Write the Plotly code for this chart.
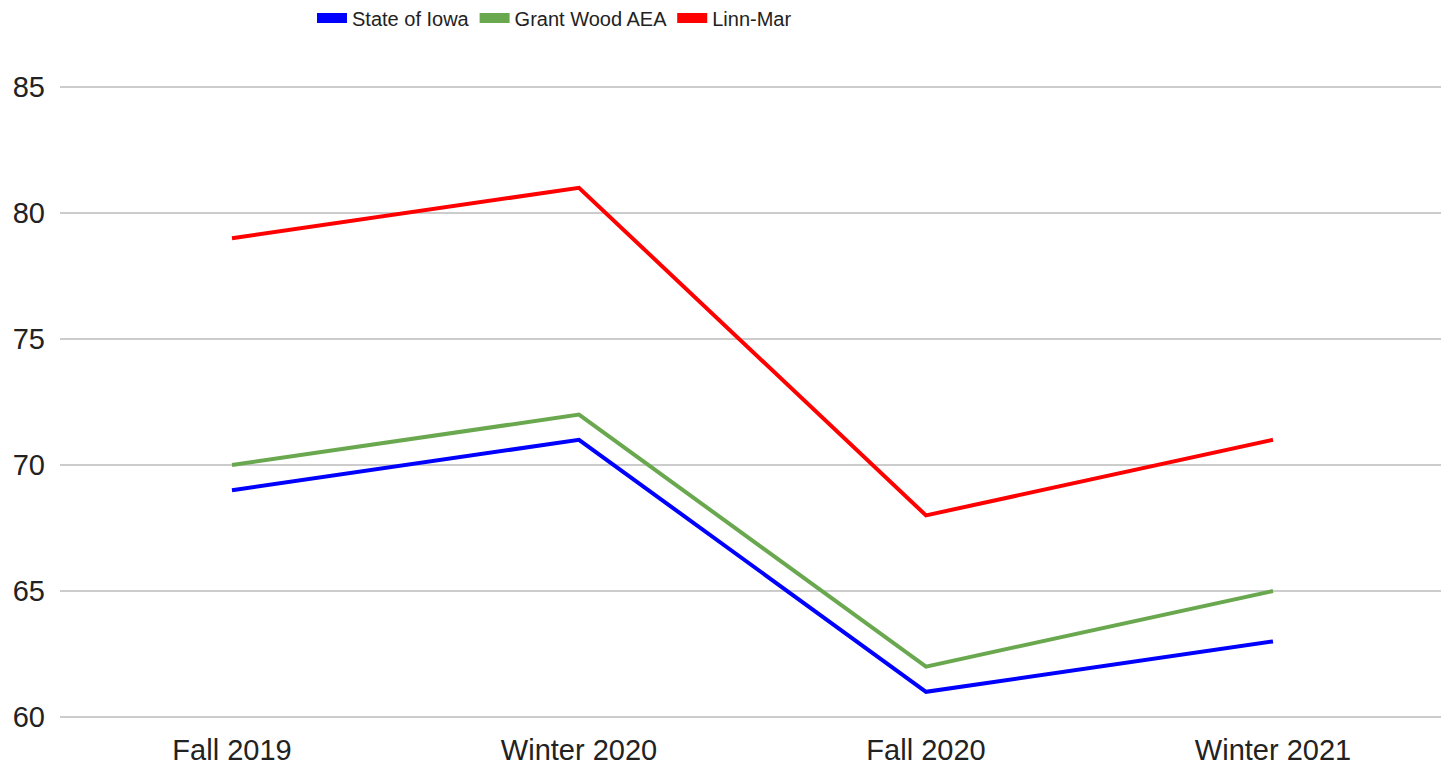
import plotly.graph_objects as go

categories = ["Fall 2019", "Winter 2020", "Fall 2020", "Winter 2021"]
state_of_iowa = [69, 71, 61, 63]
grant_wood_aea = [70, 72, 62, 65]
linn_mar = [79, 81, 68, 71]
y_ticks = [60, 65, 70, 75, 80, 85]

series = [
    ("State of Iowa", state_of_iowa, "#0000ff"),
    ("Grant Wood AEA", grant_wood_aea, "#6aa84f"),
    ("Linn-Mar", linn_mar, "#ff0000"),
]

fig = go.Figure()
for name, vals, color in series:
    fig.add_trace(go.Scatter(x=categories, y=vals, mode="lines", name=name,
                             line=dict(color=color, width=4), showlegend=False))
for name, vals, color in series:
    fig.add_trace(go.Scatter(x=[None], y=[None], mode="lines", name=name,
                             line=dict(color=color, width=10), showlegend=True))

W, H = 1441, 766
L, R, T, B = 60, 0, 40, 36
fig.update_layout(
    width=W, height=H,
    margin=dict(l=L, r=R, t=T, b=B, autoexpand=False),
    paper_bgcolor="white", plot_bgcolor="white",
    font=dict(family="Liberation Sans, Arial, sans-serif", color="#222222"),
    legend=dict(orientation="h", xref="container", yref="container",
                x=312 / W, xanchor="left", y=1 - 18 / H, yanchor="middle",
                font=dict(family="Liberation Sans, Arial", size=20, color="#222222"),
                itemwidth=30, tracegroupgap=0, bgcolor="rgba(0,0,0,0)"),
    showlegend=True,
)
# category positions: 232 + 347*i
x0 = (L - 232) / 347
x1 = (W - R - 232) / 347
fig.update_xaxes(type="category", range=[x0, x1], showgrid=False, zeroline=False,
                 showline=False, ticks="", tickfont=dict(size=29, color="#222222"),
                 ticklabelstandoff=0, automargin=False)
ppu = (717 - 87) / 25
ytop = 85 + (87 - T) / ppu
ybot = 60 - ((H - B) - 717) / ppu
fig.update_yaxes(range=[ybot, ytop], tickvals=y_ticks, showgrid=True, gridcolor="#cccccc",
                 gridwidth=1.5, zeroline=False, showline=False, ticks="",
                 tickfont=dict(size=29, color="#222222"), ticklabelstandoff=14,
                 automargin=False)

fig.write_html("out.html", config={"displayModeBar": False},
               post_script="document.body.style.margin='0';document.body.style.overflow='hidden';")
